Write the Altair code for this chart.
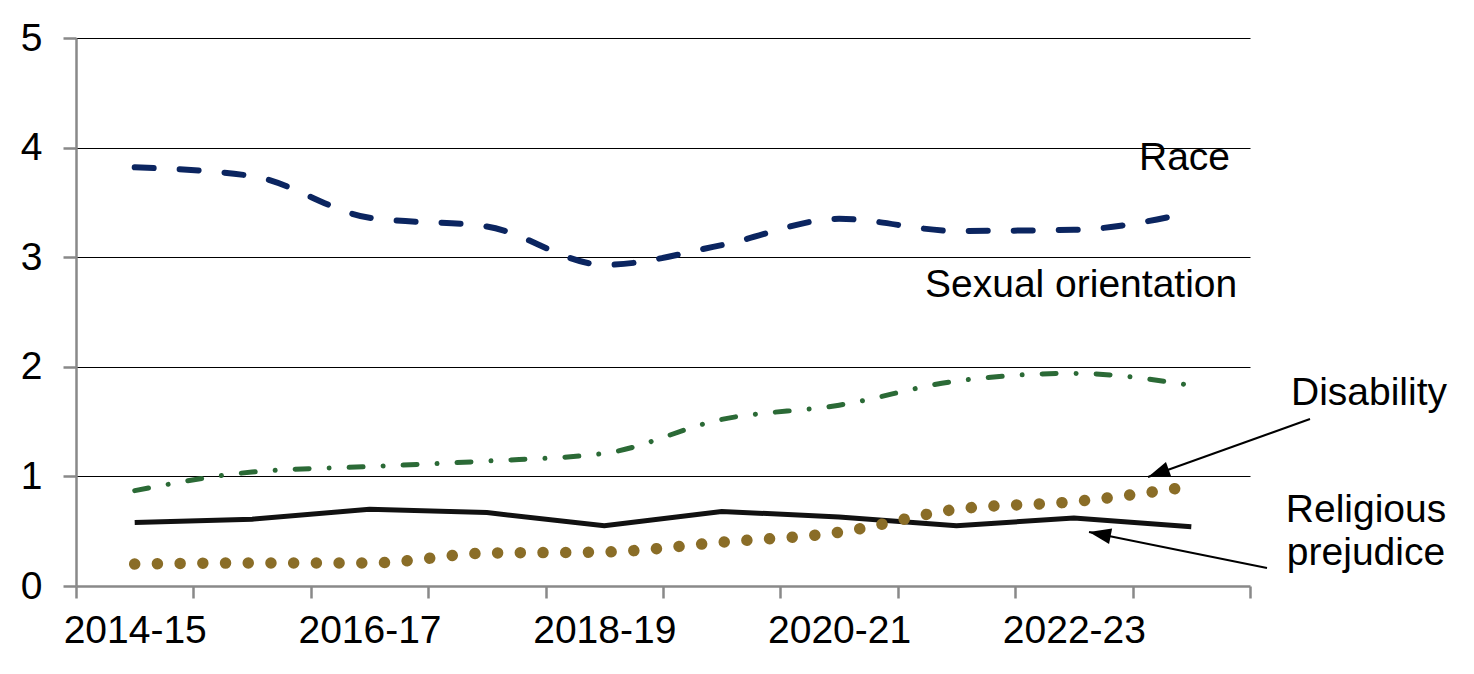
import altair as alt
import pandas as pd

# ---- data ----
YEARS = ["2014-15", "2015-16", "2016-17", "2017-18", "2018-19",
         "2019-20", "2020-21", "2021-22", "2022-23", "2023-24"]
SHOWN_LABELS = ["2014-15", "2016-17", "2018-19", "2020-21", "2022-23"]
Y_TICKS = [0, 1, 2, 3, 4, 5]

RACE = [3.82, 3.74, 3.36, 3.28, 2.93, 3.11, 3.35, 3.24, 3.25, 3.41]
SEXUAL_ORIENTATION = [0.87, 1.04, 1.09, 1.14, 1.21, 1.52, 1.65, 1.87, 1.94, 1.83]
RELIGIOUS = [0.58, 0.61, 0.70, 0.67, 0.55, 0.68, 0.63, 0.55, 0.62, 0.54]
DISABILITY = [0.20, 0.21, 0.21, 0.30, 0.31, 0.40, 0.49, 0.70, 0.77, 0.91]

SERIES = {
    "Race": RACE,
    "Sexual orientation": SEXUAL_ORIENTATION,
    "Religious prejudice": RELIGIOUS,
    "Disability": DISABILITY,
}

rows = []
for name, vals in SERIES.items():
    for yr, v in zip(YEARS, vals):
        rows.append({"series": name, "year": yr, "value": v})
df = pd.DataFrame(rows)

FONT = "Liberation Sans"
GREY = "#898989"
FS = 39

label_list = ",".join("'" + s + "'" for s in SHOWN_LABELS)
x_enc = alt.X(
    "year:N",
    sort=YEARS,
    bandPosition=0.5,
    scale=alt.Scale(type="band", domain=YEARS, paddingInner=0, paddingOuter=0),
    axis=alt.Axis(
        title=None, tickBand="extent", labelAngle=0,
        labelExpr="indexof([" + label_list + "], datum.value) >= 0 ? datum.label : ''",
        labelOverlap=False, labelFont=FONT, labelFontSize=FS, labelColor="black",
        labelPadding=13, tickSize=12, tickColor=GREY, tickWidth=2.5,
        domainColor=GREY, domainWidth=2.5, grid=False,
    ),
)
y_enc = alt.Y(
    "value:Q",
    scale=alt.Scale(domain=[0, 5], nice=False, zero=True),
    axis=alt.Axis(
        title=None, values=Y_TICKS, format="d",
        grid=True,
        gridColor={"condition": {"test": "datum.value === 0", "value": "transparent"}, "value": "black"},
        gridWidth=1.2,
        labelFont=FONT, labelFontSize=FS, labelColor="black", labelPadding=21,
        tickSize=13, tickColor=GREY, tickWidth=2.5,
        domainColor=GREY, domainWidth=2.5,
    ),
)

base = alt.Chart(df)

def series_line(name, **kw):
    return base.transform_filter(alt.datum.series == name).mark_line(**kw).encode(x=x_enc, y=y_enc)

race = series_line("Race", color="#0B2560", strokeWidth=6, strokeDash=[19, 26],
                   strokeCap="round", interpolate="monotone")
sexual = series_line("Sexual orientation", color="#2B6A36", strokeWidth=5,
                     strokeDash=[14, 20, 0.01, 20], strokeCap="round", interpolate="monotone")
relig = series_line("Religious prejudice", color="#111111", strokeWidth=5)
disab = series_line("Disability", color="#8A6D27", strokeWidth=11.5, strokeDash=[0.01, 22.7],
                    strokeCap="round", interpolate="monotone")


def label(text, x, y, align="left"):
    return alt.Chart(pd.DataFrame({"t": [text]})).mark_text(
        font=FONT, fontSize=FS, color="black", align=align, baseline="alphabetic"
    ).encode(x=alt.value(x), y=alt.value(y), text="t:N")


def arrow(x1, y1, x2, y2, angle):
    one = pd.DataFrame({"a": [1]})
    line = alt.Chart(one).mark_rule(color="black", strokeWidth=2).encode(
        x=alt.value(x1), y=alt.value(y1), x2=alt.value(x2), y2=alt.value(y2))
    head = alt.Chart(one).mark_point(
        shape="M0,0 L0.72,2 L-0.72,2 Z", filled=True, size=484, angle=angle,
        color="black", opacity=1, strokeWidth=0,
    ).encode(x=alt.value(x2), y=alt.value(y2))
    return line + head

annots = (
    label("Race", 1063, 132)
    + label("Sexual orientation", 849, 259)
    + label("Disability", 1215, 367)
    + label("Religious", 1290, 484, align="center")
    + label("prejudice", 1290, 527, align="center")
    + arrow(1234, 381, 1072, 439, 250)
    + arrow(1191, 530, 1013, 494, 281)
)

chart = alt.layer(race, sexual, relig, disab, annots).properties(
    width=1174, height=548,
    autosize=alt.AutoSizeParams(type="none"),
    padding={"left": 68, "top": 30, "right": 200, "bottom": 80},
    background="white",
).configure_view(strokeWidth=0)

chart.save("out.html", embed_options={"renderer": "svg", "actions": False})
